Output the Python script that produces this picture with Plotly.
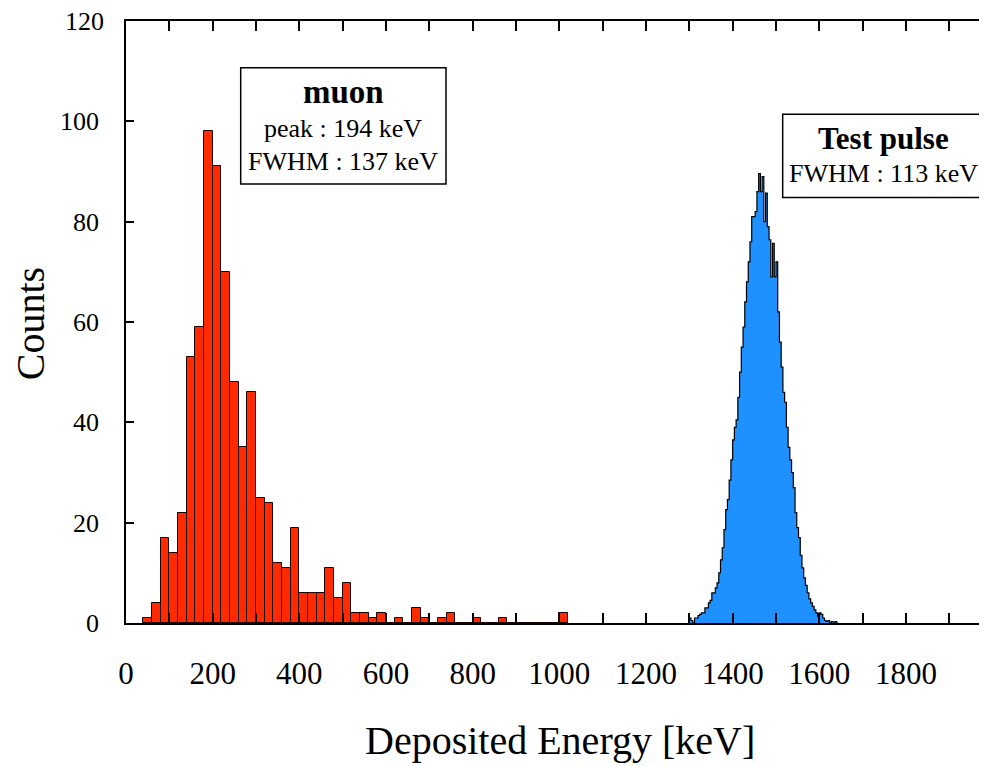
import plotly.graph_objects as go

# ---- data ----
muon_bin_width = 20
muon_bin_low = [40, 60, 80, 100, 120, 140, 160, 180, 200, 220, 240, 260, 280, 300, 320, 340,
                360, 380, 400, 420, 440, 460, 480, 500, 520, 540, 560, 580, 600, 620, 640, 660,
                680, 700, 720, 740, 760, 780, 800, 820, 840, 860, 880, 900, 920, 940, 960, 980, 1000]
muon_counts = [1, 4, 17, 14, 22, 53, 59, 98, 91, 70, 48, 35, 46, 25, 24, 12,
               11, 19, 6, 6, 6, 11, 5, 8, 2, 2, 1, 2, 0, 1, 0, 3,
               1, 0, 1, 2, 0, 0, 1, 0, 0, 1, 0, 0, 0, 0, 0, 0, 2]

tp_start = 1300
tp_bin_width = 4
tp_counts = [1, 0.5, 0, 1, 1, 1.5, 1.7, 2, 2, 3, 3, 4, 4.5, 6, 6, 7, 8, 10, 12.6, 15,
             18.6, 22.6, 24.6, 28.5, 32.5, 36.5, 39, 40.5, 45, 50, 55, 59, 64, 68, 72, 76,
             81, 81, 82, 86, 89.6, 86, 89, 80, 85.7, 79, 76.4, 69, 75.7, 69, 72, 62, 56, 51,
             46, 44, 39, 35, 32.5, 30, 27, 22, 19, 17, 13.5, 11, 9, 7.5, 6, 4.8, 4, 3.3,
             2.6, 2, 1.3, 2, 1.7, 1, 0.5, 0.3, 0.5, 0, 0.3, 0, 0.3, 0]

x_tick_vals = list(range(0, 2000, 100))
x_tick_text = [str(v) if v % 200 == 0 else "" for v in x_tick_vals]
y_tick_vals = [0, 20, 40, 60, 80, 100, 120]
y_tick_text = ["0", "20", "40", "60", "80", "100", "120"]

FONT = "Liberation Serif"

fig = go.Figure()

# muon histogram
fig.add_trace(go.Bar(
    x=[b + muon_bin_width / 2 for b in muon_bin_low],
    y=muon_counts,
    width=muon_bin_width,
    marker=dict(color="#FF2A00", line=dict(color="#1a0000", width=1)),
    showlegend=False,
))

# test pulse histogram (step outline + fill)
tp_edges = [tp_start + i * tp_bin_width for i in range(len(tp_counts) + 1)]
fig.add_trace(go.Scatter(
    x=tp_edges,
    y=tp_counts + [tp_counts[-1]],
    mode="lines",
    line=dict(shape="hv", color="black", width=1.2),
    fill="tozeroy",
    fillcolor="#1E90FF",
    showlegend=False,
))

# boxes
fig.add_shape(type="rect", xref="x", yref="y", x0=264.7, x1=738.5, y0=87.5, y1=110.7,
              line=dict(color="black", width=1.5), fillcolor="white", layer="above")
fig.add_shape(type="rect", xref="x", yref="y", x0=1515.5, x1=1978.5, y0=84.8, y1=101.4,
              line=dict(color="black", width=1.5), fillcolor="white", layer="above")

ann = [
    dict(x=501.6, y=105.8, text="<b>muon</b>", size=33),
    dict(x=501.6, y=98.6, text="peak : 194 keV", size=26),
    dict(x=501.6, y=91.9, text="FWHM : 137 keV", size=26),
    dict(x=1747, y=96.6, text="<b>Test pulse</b>", size=31),
    dict(x=1747, y=89.6, text="FWHM : 113 keV", size=26),
]
for a in ann:
    fig.add_annotation(x=a["x"], y=a["y"], xref="x", yref="y", text=a["text"], showarrow=False,
                       font=dict(family=FONT, size=a["size"], color="black"),
                       xanchor="center", yanchor="middle")

# top y tick label (would be dropped at the figure edge) drawn as annotation
fig.add_annotation(x=0, y=y_tick_vals[-1], xref="paper", yref="y", text=y_tick_text[-1],
                   showarrow=False, font=dict(family=FONT, size=26, color="black"),
                   xanchor="right", yanchor="middle", xshift=-20)

# axis titles
fig.add_annotation(x=-0.1115, y=0.498, xref="paper", yref="paper", text="Counts", textangle=-90,
                   showarrow=False, font=dict(family=FONT, size=40, color="black"),
                   xanchor="center", yanchor="middle")
fig.add_annotation(x=0.504, y=-0.196, xref="paper", yref="paper", text="Deposited Energy [keV]",
                   showarrow=False, font=dict(family=FONT, size=40, color="black"),
                   xanchor="center", yanchor="middle")

# page body adds an 8px offset; figure sized so the plot lands on the reference pixels
fig.update_layout(
    width=979, height=758,
    margin=dict(l=118, r=0, t=13, b=143),
    paper_bgcolor="white", plot_bgcolor="white",
    bargap=0,
    xaxis=dict(range=[0, 1987], tickmode="array", tickvals=x_tick_vals, ticktext=x_tick_text,
               ticks="inside", ticklen=10, tickwidth=1.5, tickcolor="black",
               showline=True, linewidth=1.5, linecolor="black", mirror="ticks",
               showgrid=False, zeroline=False,
               tickfont=dict(family=FONT, size=31, color="black"), ticklabelstandoff=22),
    yaxis=dict(range=[0, 120], tickmode="array", tickvals=y_tick_vals[:-1],
               ticktext=y_tick_text[:-1],
               ticks="inside", ticklen=8, tickwidth=1.5, tickcolor="black",
               showline=True, linewidth=1.5, linecolor="black",
               showgrid=False, zeroline=False,
               tickfont=dict(family=FONT, size=26, color="black"), ticklabelstandoff=20),
)

fig.write_html("out.html")
